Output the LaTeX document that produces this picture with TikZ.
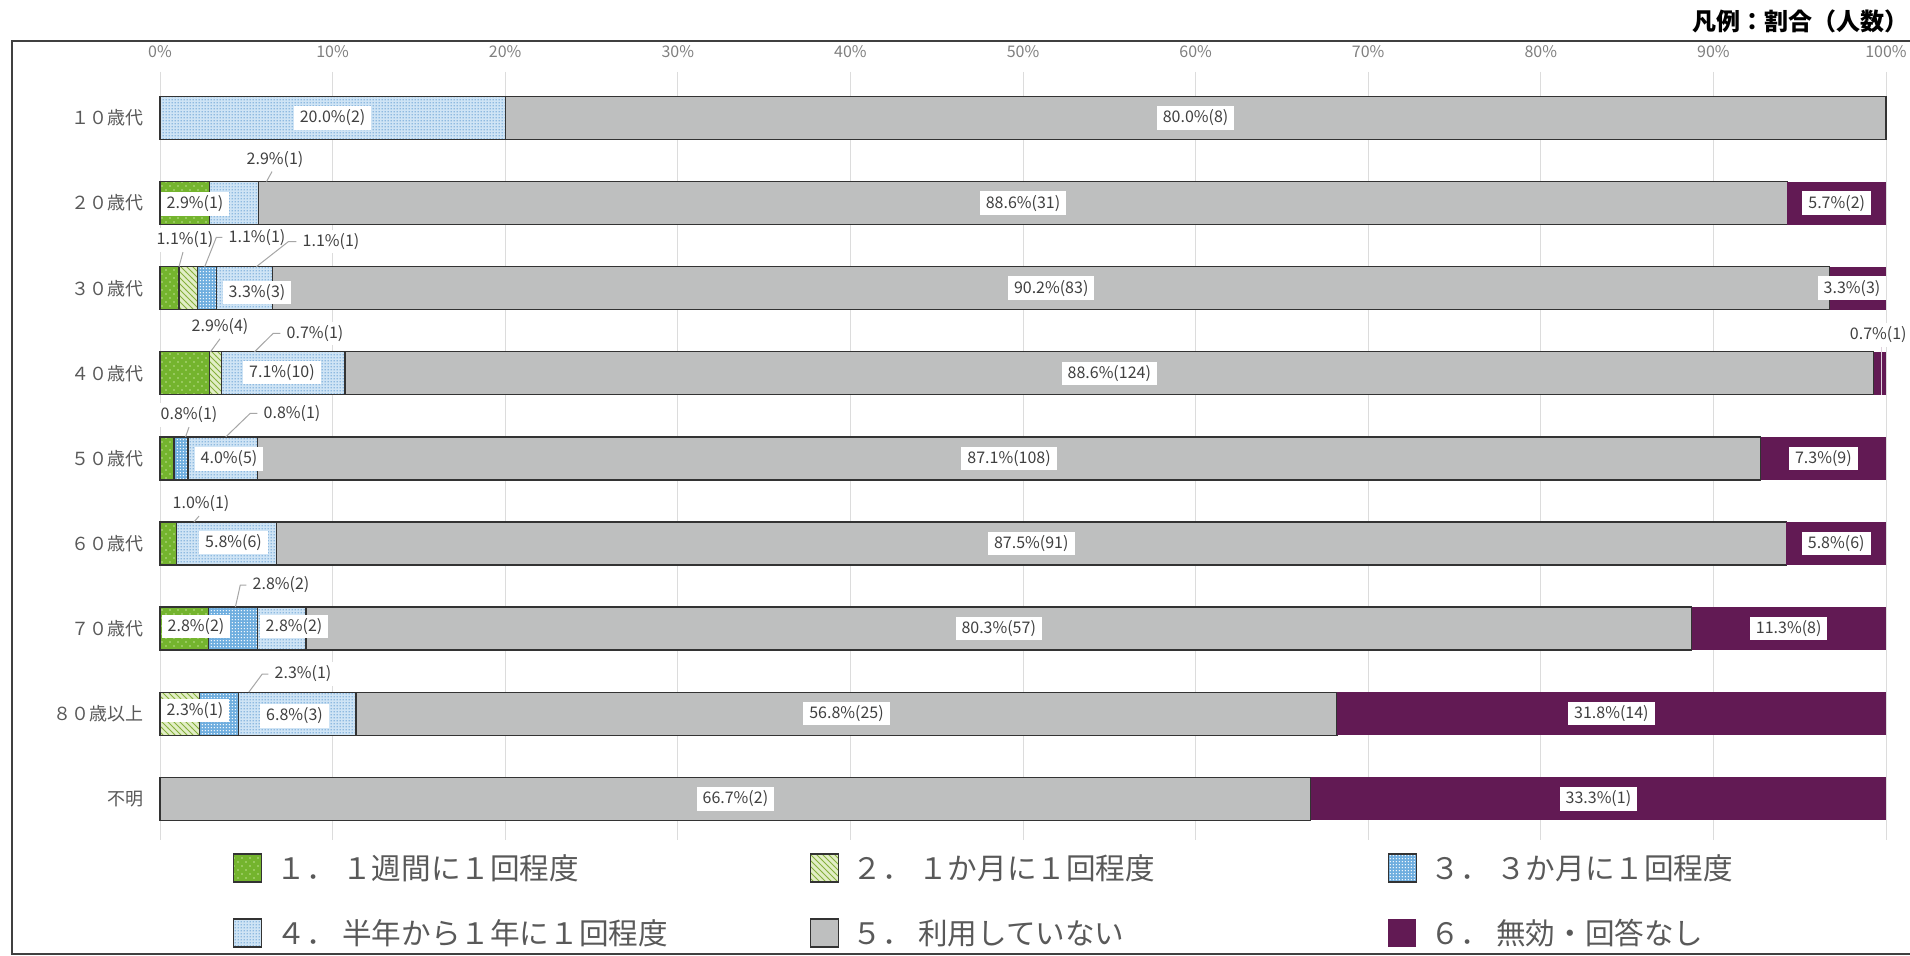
\documentclass[tikz,border=0pt]{standalone}
\usepackage{fontspec}
\setmainfont{Noto Sans CJK JP}
\usetikzlibrary{patterns}
\definecolor{cgreen}{HTML}{74B42E}
\definecolor{cgreendot}{HTML}{BCE08F}
\definecolor{chatchbg}{HTML}{E2EEC6}
\definecolor{chatchln}{HTML}{86B03C}
\definecolor{cblue}{HTML}{6FAEDF}
\definecolor{cpalebg}{HTML}{CFE4F5}
\definecolor{cpaledot}{HTML}{4F8FCC}
\definecolor{cgray}{HTML}{BEBFBF}
\definecolor{cpurple}{HTML}{621A54}
\definecolor{edgec}{HTML}{333333}
\definecolor{gridc}{HTML}{DCDCDC}
\definecolor{txtc}{HTML}{404040}
\definecolor{axc}{HTML}{808080}
\definecolor{lblc}{HTML}{595959}
\definecolor{leadc}{HTML}{A6A6A6}
\definecolor{frmc}{HTML}{404040}
\pgfdeclarepatternformonly{sparsedots}{\pgfpoint{-0.5pt}{-0.5pt}}{\pgfpoint{4.5pt}{4.5pt}}{\pgfpoint{4pt}{4pt}}{%
  \pgfpathcircle{\pgfpoint{1pt}{1pt}}{0.45pt}\pgfpathcircle{\pgfpoint{3pt}{3pt}}{0.45pt}\pgfusepath{fill}}
\pgfdeclarepatternformonly{finedots}{\pgfpointorigin}{\pgfpoint{1.5pt}{1.5pt}}{\pgfpoint{1.5pt}{1.5pt}}{%
  \pgfpathcircle{\pgfpoint{0.75pt}{0.75pt}}{0.42pt}\pgfusepath{fill}}
\pgfdeclarepatternformonly{whitedots}{\pgfpointorigin}{\pgfpoint{1.4pt}{1.4pt}}{\pgfpoint{1.4pt}{1.4pt}}{%
  \pgfpathcircle{\pgfpoint{0.7pt}{0.7pt}}{0.35pt}\pgfusepath{fill}}
\tikzset{
  segA/.style={preaction={fill=cgreen}, pattern=sparsedots, pattern color=cgreendot, draw=edgec, line width=0.7pt},
  segB/.style={preaction={fill=chatchbg}, pattern=north west lines, pattern color=chatchln, draw=edgec, line width=0.7pt},
  segC/.style={preaction={fill=cblue}, pattern=whitedots, pattern color=white, draw=edgec, line width=0.7pt},
  segD/.style={preaction={fill=cpalebg}, pattern=finedots, pattern color=cpaledot, draw=edgec, line width=0.7pt},
  segE/.style={fill=cgray, draw=edgec, line width=0.7pt},
  segF/.style={fill=cpurple},
  dlab/.style={fill=white, inner xsep=3pt, inner ysep=1.8pt, text=txtc, font=\fontsize{8}{9}\selectfont},
  axlab/.style={text=axc, inner sep=0pt, font=\fontsize{8}{9}\selectfont},
  rowlab/.style={text=lblc, inner sep=0pt, anchor=east, font=\fontsize{9}{10}\selectfont},
  leader/.style={draw=leadc, line width=0.5pt},
  leaderlight/.style={draw=white!80!cpurple, line width=0.5pt},
  gridln/.style={draw=gridc, line width=0.5pt},
  legbox/.style={minimum width=14pt, minimum height=14pt, inner sep=0pt, anchor=west},
  legtext/.style={text=lblc, inner sep=0pt, anchor=west, font=\fontsize{14.8}{16}\selectfont},
  frameln/.style={draw=frmc, line width=1pt}
}
\newcommand{\segm}[4]{\path[#1] (#2,{#4-21.5}) rectangle (#3,{#4+21.5});}
\begin{document}
\begin{tikzpicture}[x=0.5pt,y=-0.5pt]
\useasboundingbox (0,0) rectangle (1910,956);
\fill[white] (0,0) rectangle (1910,956);
% title
\node[anchor=east, inner sep=0pt, font=\bfseries\fontsize{12}{14}\selectfont] (title) at (1909,21) {凡例：割合（人数）};
% frame
\draw[frameln] (12,41) rectangle (1916,954);
% grid and axis
\foreach \k [evaluate=\k as \pct using int(10*\k)] in {0,...,10} {
  \draw[gridln] ({160+172.6*\k},72) -- ({160+172.6*\k},840);
  \node[axlab] (ax\k) at ({160+172.6*\k},52) {\pct\%};
}
% row labels
\node[rowlab] (y1) at (144,118) {１０歳代};
\node[rowlab] (y2) at (144,203.1) {２０歳代};
\node[rowlab] (y3) at (144,288.2) {３０歳代};
\node[rowlab] (y4) at (144,373.3) {４０歳代};
\node[rowlab] (y5) at (144,458.4) {５０歳代};
\node[rowlab] (y6) at (144,543.5) {６０歳代};
\node[rowlab] (y7) at (144,628.6) {７０歳代};
\node[rowlab] (y8) at (144,713.7) {８０歳以上};
\node[rowlab] (y9) at (144,798.8) {不明};
% bars
\segm{segD}{160}{505.2}{118}
\segm{segE}{505.2}{1886}{118}
\segm{segA}{160}{209.3}{203.1}
\segm{segD}{209.3}{258.6}{203.1}
\segm{segE}{258.6}{1787.4}{203.1}
\segm{segF}{1787.4}{1886}{203.1}
\segm{segA}{160}{178.8}{288.2}
\segm{segB}{178.8}{197.5}{288.2}
\segm{segC}{197.5}{216.3}{288.2}
\segm{segD}{216.3}{272.6}{288.2}
\segm{segE}{272.6}{1829.7}{288.2}
\segm{segF}{1829.7}{1886}{288.2}
\segm{segA}{160}{209.3}{373.3}
\segm{segB}{209.3}{221.6}{373.3}
\segm{segD}{221.6}{344.9}{373.3}
\segm{segE}{344.9}{1873.7}{373.3}
\segm{segF}{1873.7}{1886}{373.3}
\segm{segA}{160}{173.9}{458.4}
\segm{segC}{173.9}{187.8}{458.4}
\segm{segD}{187.8}{257.4}{458.4}
\segm{segE}{257.4}{1760.7}{458.4}
\segm{segF}{1760.7}{1886}{458.4}
\segm{segA}{160}{176.6}{543.5}
\segm{segD}{176.6}{276.2}{543.5}
\segm{segE}{276.2}{1786.4}{543.5}
\segm{segF}{1786.4}{1886}{543.5}
\segm{segA}{160}{208.6}{628.6}
\segm{segC}{208.6}{257.2}{628.6}
\segm{segD}{257.2}{305.9}{628.6}
\segm{segE}{305.9}{1691.5}{628.6}
\segm{segF}{1691.5}{1886}{628.6}
\segm{segB}{160}{199.2}{713.7}
\segm{segC}{199.2}{238.5}{713.7}
\segm{segD}{238.5}{356.1}{713.7}
\segm{segE}{356.1}{1336.8}{713.7}
\segm{segF}{1336.8}{1886}{713.7}
\segm{segE}{160}{1310.7}{798.8}
\segm{segF}{1310.7}{1886}{798.8}
% leader end points
\coordinate (p2) at (266.5,181.6);
\coordinate (p3a) at (179,266.7);
\coordinate (p3b) at (204.7,266.7);
\coordinate (p3c) at (256.4,266.7);
\coordinate (p4a) at (210.5,351.8);
\coordinate (p4b) at (254.5,351.8);
\coordinate (p4f) at (1881,394.8);
\coordinate (p5a) at (185.6,436.9);
\coordinate (p5c) at (225.8,436.9);
\coordinate (p6a) at (194,522);
\coordinate (p7c) at (235.4,607.1);
\coordinate (p8c) at (248.8,692.2);
% data labels
\node[dlab] (r1c4) at (332.6,118) {20.0\%(2)};
\node[dlab] (r1c5) at (1195.6,118) {80.0\%(8)};
\node[dlab] (r2c1) at (195,204) {2.9\%(1)};
\node[dlab] (r2c4) at (275,159.5) {2.9\%(1)};
\node[dlab] (r2c5) at (1023,203.1) {88.6\%(31)};
\node[dlab] (r2c6) at (1836.7,203.1) {5.7\%(2)};
\node[dlab] (r3c1) at (185,240) {1.1\%(1)};
\node[dlab] (r3c2) at (257,237.5) {1.1\%(1)};
\node[dlab] (r3c3) at (331,241.7) {1.1\%(1)};
\node[dlab] (r3c4) at (257,292.5) {3.3\%(3)};
\node[dlab] (r3c5) at (1051.2,288.2) {90.2\%(83)};
\node[dlab] (r3c6) at (1852,288.2) {3.3\%(3)};
\node[dlab] (r4c1) at (220,326.7) {2.9\%(4)};
\node[dlab] (r4c2) at (315,333.3) {0.7\%(1)};
\node[dlab] (r4c4) at (282,372.7) {7.1\%(10)};
\node[dlab] (r4c5) at (1109.3,373.3) {88.6\%(124)};
\node[dlab, anchor=east, inner xsep=1pt] (r4c6) at (1909,335) {0.7\%(1)};
\node[dlab] (r5c1) at (189,415) {0.8\%(1)};
\node[dlab] (r5c3) at (292,413.3) {0.8\%(1)};
\node[dlab] (r5c4) at (229,459) {4.0\%(5)};
\node[dlab] (r5c5) at (1009.1,458.4) {87.1\%(108)};
\node[dlab] (r5c6) at (1823.4,458.4) {7.3\%(9)};
\node[dlab] (r6c1) at (201,504) {1.0\%(1)};
\node[dlab] (r6c4) at (233.5,542.3) {5.8\%(6)};
\node[dlab] (r6c5) at (1031.3,543.5) {87.5\%(91)};
\node[dlab] (r6c6) at (1836.2,543.5) {5.8\%(6)};
\node[dlab] (r7c1) at (196,626.7) {2.8\%(2)};
\node[dlab] (r7c3) at (281,585) {2.8\%(2)};
\node[dlab] (r7c4) at (294,626.7) {2.8\%(2)};
\node[dlab] (r7c5) at (998.7,628.6) {80.3\%(57)};
\node[dlab] (r7c6) at (1788.7,628.6) {11.3\%(8)};
\node[dlab] (r8c2) at (195,710.5) {2.3\%(1)};
\node[dlab] (r8c3) at (303,674) {2.3\%(1)};
\node[dlab] (r8c4) at (294.5,716) {6.8\%(3)};
\node[dlab] (r8c5) at (846.5,713.7) {56.8\%(25)};
\node[dlab] (r8c6) at (1611.4,713.7) {31.8\%(14)};
\node[dlab] (r9c5) at (735.4,798.8) {66.7\%(2)};
\node[dlab] (r9c6) at (1598.4,798.8) {33.3\%(1)};
% leaders
\draw[leader] ([xshift=-1.5pt]r2c4.south) -- (p2);
\draw[leader] ([xshift=-1pt]r3c1.south) -- (p3a);
\draw[leader] (r3c2.west) -- ++(-6,0) -- (p3b);
\draw[leader] (r3c3.west) -- ++(-8,0) -- (p3c);
\draw[leader] (r4c1.south) -- (p4a);
\draw[leader] (r4c2.west) -- ++(-7,0) -- (p4b);
\draw[leaderlight] (p4f) -- (r4c6.south -| p4f) ;
\draw[leader] (r5c1.south) -- (p5a);
\draw[leader] (r5c3.west) -- ++(-7,0) -- (p5c);
\draw[leader] ([xshift=-1pt]r6c1.south) -- (p6a);
\draw[leader] (r7c3.west) -- ++(-6,0) -- (p7c);
\draw[leader] (r8c3.west) -- ++(-6,0) -- (p8c);
% legend
\node[legbox, segA] (lg1) at (233,868) {};
\node[legtext] (lt1) at (276,868) {１． １週間に１回程度};
\node[legbox, segB] (lg2) at (810,868) {};
\node[legtext] (lt2) at (852,868) {２． １か月に１回程度};
\node[legbox, segC] (lg3) at (1388,868) {};
\node[legtext] (lt3) at (1430,868) {３． ３か月に１回程度};
\node[legbox, segD] (lg4) at (233,933) {};
\node[legtext] (lt4) at (276,933) {４． 半年から１年に１回程度};
\node[legbox, segE] (lg5) at (810,933) {};
\node[legtext] (lt5) at (852,933) {５． 利用していない};
\node[legbox, segF] (lg6) at (1388,933) {};
\node[legtext] (lt6) at (1430,933) {６． 無効・回答なし};
\end{tikzpicture}
\end{document}
